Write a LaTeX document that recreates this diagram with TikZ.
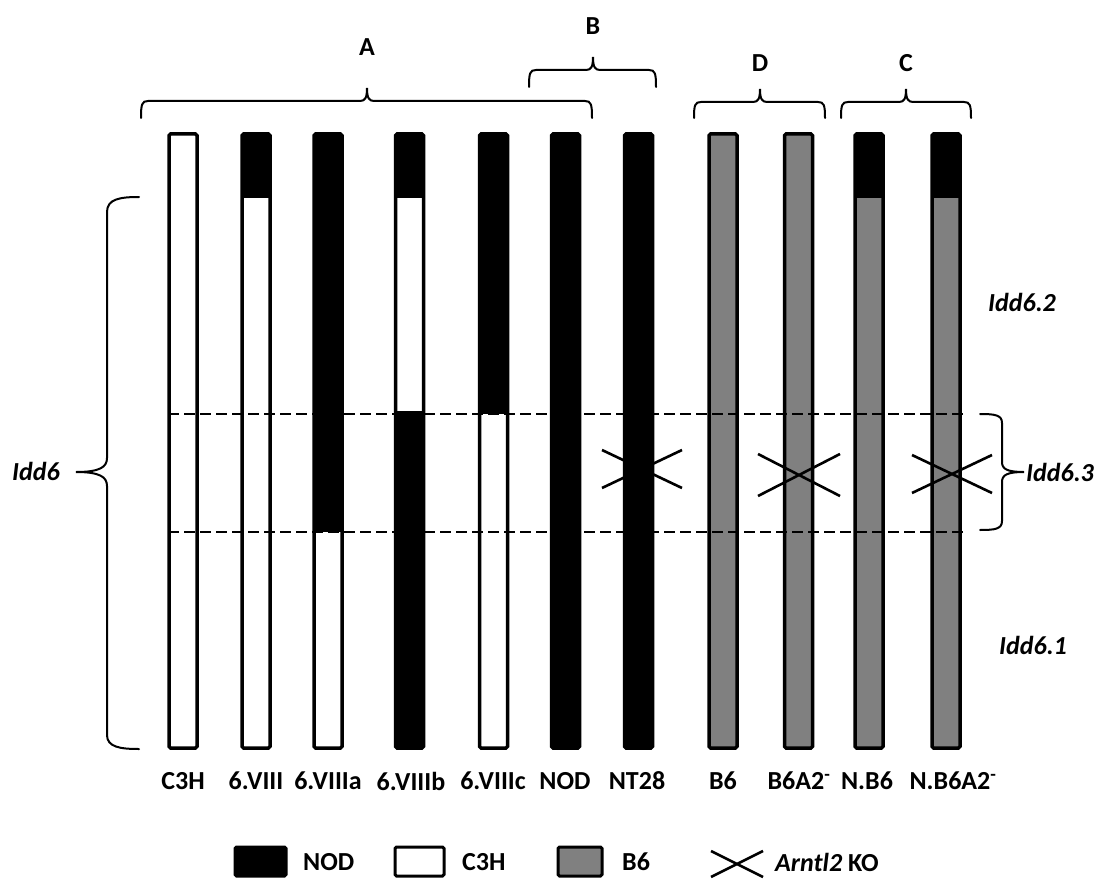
\documentclass[tikz,border=0pt]{standalone}
\usepackage{fontspec}
\setmainfont{Carlito}
\begin{document}
\begin{tikzpicture}[x=1pt,y=-1pt,
  barline/.style={draw=black,line width=3.5pt,rounded corners=1.5pt},
  dashline/.style={line width=2.8pt,dash pattern=on 11pt off 5pt},
  brc/.style={line width=2pt,line cap=round},
  crs/.style={line width=2.6pt},
  lab/.style={font=\fontsize{26}{29}\selectfont\bfseries,inner sep=0pt},
  ilab/.style={font=\fontsize{26}{29}\selectfont\bfseries\itshape,inner sep=0pt},
  gry/.style={fill={rgb,255:red,128;green,128;blue,128}}]
\useasboundingbox[fill=white] (0,0) rectangle (1103,880);
\newcommand\seg[4]{\fill[#4] ({#1-14},#2) rectangle ({#1+14},#3);}
\newcommand\outl[1]{\draw[barline] ({#1-14},134) rectangle ({#1+14},748);}
\newcommand\hbr[5]{\draw[brc] ({#1},{#4+#5}) .. controls ({#1},{#4+3}) and ({#1+1},{#4}) .. ({#1+7},{#4}) -- ({#3-7},{#4}) .. controls ({#3-2},{#4}) and ({#3},{#4-3}) .. ({#3},{#4-13}) .. controls ({#3},{#4-3}) and ({#3+2},{#4}) .. ({#3+7},{#4}) -- ({#2-7},{#4}) .. controls ({#2-1},{#4}) and ({#2},{#4+3}) .. ({#2},{#4+#5});}
\newcommand\xcross[4]{\draw[crs] ({#1-#3},{#2-#4}) -- ({#1+#3},{#2+#4}) ({#1-#3},{#2+#4}) -- ({#1+#3},{#2-#4});}
% fills
\seg{183}{134}{748}{white}
\seg{256}{134}{198}{black}\seg{256}{198}{748}{white}
\seg{328}{134}{532}{black}\seg{328}{532}{748}{white}
\seg{409.5}{134}{198}{black}\seg{409.5}{198}{411}{white}\seg{409.5}{411}{748}{black}
\seg{493.5}{134}{414}{black}\seg{493.5}{414}{748}{white}
\seg{565.5}{134}{748}{black}
\seg{638.5}{134}{748}{black}
\seg{723}{134}{748}{gry}
\seg{798.5}{134}{748}{gry}
\seg{869}{134}{198}{black}\seg{869}{198}{748}{gry}
\seg{946}{134}{198}{black}\seg{946}{198}{748}{gry}
% dashed region
\draw[dashline] (168,414) -- (963,414);
\draw[dashline] (168,532) -- (963,532);
% outlines
\foreach \c in {183,256,328,409.5,493.5,565.5,638.5,723,798.5,869,946} {\outl{\c}}
% knockout crosses
\xcross{642}{469}{40}{19}
\xcross{799}{475}{41}{21}
\xcross{952}{474}{40}{19}
% top braces
\hbr{141}{592}{367}{101}{17}
\hbr{529}{656}{593}{70}{17}
\hbr{694}{825}{760}{102}{16}
\hbr{841}{971}{906}{102}{16}
\node[lab] (gA) at (367,47) {A};
\node[lab] (gB) at (593,26) {B};
\node[lab] (gD) at (760,63) {D};
\node[lab] (gC) at (906,63) {C};
% Idd6 brace
\draw[brc] (139,197) .. controls (120,197) and (107,199) .. (107,212) -- (107,458) .. controls (107,467) and (100,472) .. (76,472) .. controls (100,472) and (107,477) .. (107,486) -- (107,735) .. controls (107,747) and (120,749) .. (139,749);
\node[ilab,anchor=west] (idd6) at (12,471) {Idd6};
% Idd6.3 brace
\draw[brc] (980,414) .. controls (995,414) and (1002,415) .. (1002,423) -- (1002,462) .. controls (1002,469) and (1007,472) .. (1024,472) .. controls (1007,472) and (1002,475) .. (1002,482) -- (1002,521) .. controls (1002,529) and (995,530) .. (980,530);
\node[ilab,anchor=west] (idd63) at (1026,472) {Idd6.3};
\node[ilab,anchor=west] (idd62) at (988,302) {Idd6.2};
\node[ilab,anchor=west] (idd61) at (999,645) {Idd6.1};
% strain labels
\node[lab] (l1) at (183,781) {C3H};
\node[lab] (l2) at (256,781) {6.VIII};
\node[lab] (l3) at (328,781) {6.VIIIa};
\node[lab] (l4) at (411,781) {6.VIIIb};
\node[lab] (l5) at (493,781) {6.VIIIc};
\node[lab] (l6) at (565,781) {NOD};
\node[lab] (l7) at (637,781) {NT28};
\node[lab] (l8) at (723,781) {B6};
\node[lab] (l9) at (799,781) {B6A2\textsuperscript{-}};
\node[lab] (l10) at (867,781) {N.B6};
\node[lab] (l11) at (953,781) {N.B6A2\textsuperscript{-}};
% legend
\draw[line width=3pt,rounded corners=1.5pt,fill=black] (235,847) rectangle (286,876);
\node[lab,anchor=west] (kNOD) at (303,862) {NOD};
\draw[line width=3pt,rounded corners=1.5pt,fill=white] (395,847) rectangle (444,876);
\node[lab,anchor=west] (kC3H) at (462,862) {C3H};
\draw[line width=3pt,rounded corners=1.5pt,gry] (558,847) rectangle (602,876);
\node[lab,anchor=west] (kB6) at (622,862) {B6};
\xcross{737}{864}{26}{13}
\node[lab,anchor=west] (kKO) at (775,862) {\itshape Arntl2\upshape{} KO};
\end{tikzpicture}
\end{document}
